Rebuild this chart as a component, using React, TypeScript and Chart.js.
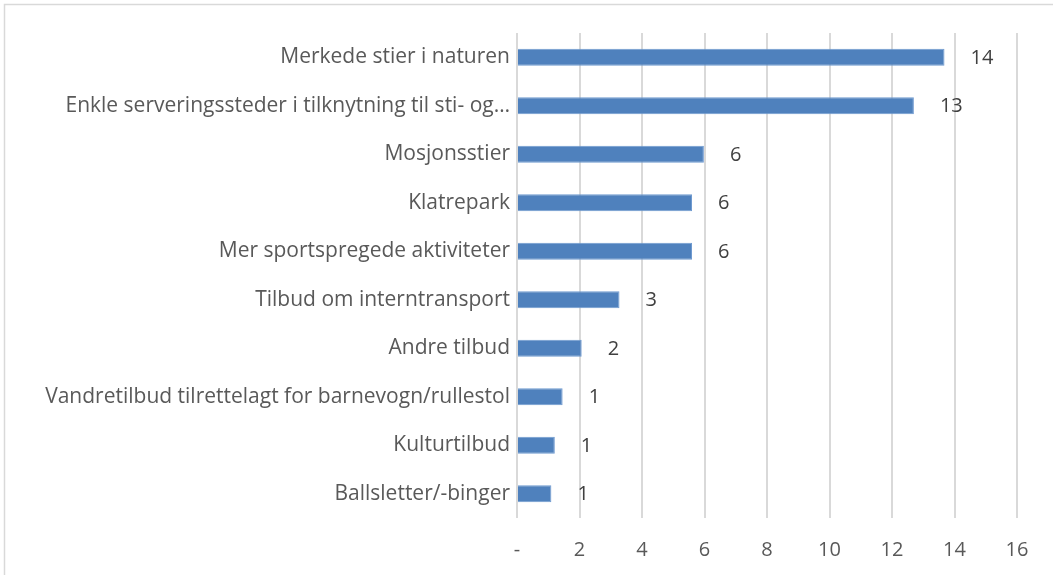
import React, { useEffect, useRef } from "react";
import { Chart, registerables } from "chart.js";

Chart.register(...registerables);

const categories = [
  "Merkede stier i naturen",
  "Enkle serveringssteder i tilknytning til sti- og…",
  "Mosjonsstier",
  "Klatrepark",
  "Mer sportspregede aktiviteter",
  "Tilbud om interntransport",
  "Andre tilbud",
  "Vandretilbud tilrettelagt for barnevogn/rullestol",
  "Kulturtilbud",
  "Ballsletter/-binger",
];
const values = [13.68, 12.7, 5.98, 5.6, 5.6, 3.28, 2.07, 1.46, 1.21, 1.1];
const xMin = 0;
const xMax = 16;
const xStep = 2;

const FONT = "'Open Sans', sans-serif";

const frame = {
  id: "frame",
  beforeDraw(chart: any) {
    const ctx = chart.ctx;
    ctx.save();
    ctx.fillStyle = "#ffffff";
    ctx.fillRect(0, 0, chart.width, chart.height);
    ctx.strokeStyle = "#d9d9d9";
    ctx.lineWidth = 1.5;
    ctx.strokeRect(4.5, 4.5, chart.width + 20, chart.height + 20);
    ctx.restore();
  },
};

const valueLabels = {
  id: "valueLabels",
  afterDatasetsDraw(chart: any) {
    const ctx = chart.ctx;
    const meta = chart.getDatasetMeta(0);
    ctx.save();
    ctx.font = `20px ${FONT}`;
    ctx.fillStyle = "#404040";
    ctx.textAlign = "left";
    ctx.textBaseline = "middle";
    meta.data.forEach((bar: any, i: number) => {
      const v = values[i];
      ctx.fillText(String(Math.round(v)), bar.x + 26, bar.y + 1);
    });
    ctx.restore();
  },
};

export default function App() {
  const ref = useRef<HTMLCanvasElement>(null);
  useEffect(() => {
    document.body.style.margin = "0";
    const chart = new Chart(ref.current!, {
      type: "bar",
      data: {
        labels: categories,
        datasets: [
          {
            data: values,
            backgroundColor: "#4f81bd",
            borderColor: "#6f9ad0",
            borderWidth: 1,
            barPercentage: 0.35,
            categoryPercentage: 1,
          },
        ],
      },
      options: {
        indexAxis: "y",
        animation: false,
        responsive: false,
        layout: { padding: { top: 33, right: 36, left: 0, bottom: 0 } },
        plugins: { legend: { display: false }, tooltip: { enabled: false } },
        scales: {
          x: {
            min: xMin,
            max: xMax,
            ticks: {
              stepSize: xStep,
              padding: 20,
              color: "#595959",
              font: { family: FONT, size: 20 },
              callback: (v: any) => (Number(v) === 0 ? "-" : String(v)),
            },
            grid: { color: "#d9d9d9", lineWidth: 2, drawTicks: false },
            border: { display: false },
            afterFit: (s: any) => {
              s.height = 575 - 518;
            },
          },
          y: {
            ticks: {
              padding: 7,
              color: "#595959",
              font: { family: FONT, size: 21 },
              autoSkip: false,
            },
            grid: { display: false, drawTicks: false },
            border: { display: false },
            afterFit: (s: any) => {
              s.width = 517;
            },
          },
        },
      },
      plugins: [frame, valueLabels],
    });
    return () => chart.destroy();
  }, []);
  return <canvas ref={ref} width={1053} height={575} style={{ display: "block" }} />;
}
